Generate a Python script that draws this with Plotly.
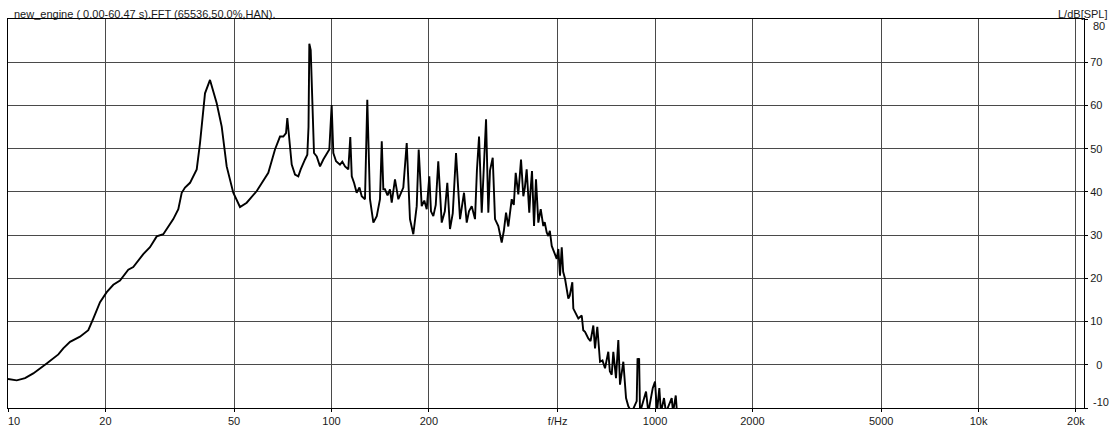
import plotly.graph_objects as go

# Frequency (Hz) and level (dB SPL)
freq = [
    10.0, 10.64, 11.29, 11.97, 13.17, 14.31, 14.82, 15.55, 16.69, 17.71,
    18.35, 19.01, 19.25, 20.19, 21.16, 22.19, 22.72, 23.54, 24.39, 25.28,
    26.19, 27.47, 28.12, 28.82, 30.20, 31.29, 32.43, 33.61, 34.43, 35.25,
    36.53, 38.31, 39.22, 40.64, 42.11, 44.17, 45.77, 47.42, 49.70, 52.13,
    54.69, 58.74, 60.86, 63.77, 66.88, 69.31, 70.96, 72.34, 73.01, 73.74,
    74.42, 75.33, 77.12, 78.95, 80.31, 82.81, 84.18, 84.90, 85.39, 86.24,
    87.21, 88.28, 90.01, 92.15, 94.33, 96.65, 98.45, 100.1, 101.3, 103.3,
    106.2, 108.0, 110.1, 112.7, 114.3, 115.5, 117.5, 119.6, 122.0, 124.0,
    126.9, 129.0, 131.5, 134.7, 138.0, 141.2, 143.0, 144.6, 146.3, 149.0,
    151.6, 153.5, 157.1, 160.9, 163.5, 166.7, 170.8, 174.8, 179.0, 183.4,
    186.0, 190.0, 193.5, 196.9, 200.6, 203.0, 206.4, 210.0, 213.8, 219.1,
    224.0, 228.0, 232.4, 237.0, 242.6, 249.6, 256.8, 261.8, 266.0, 271.3,
    277.7, 281.5, 285.8, 291.3, 295.0, 300.4, 305.3, 309.0, 315.0, 320.2,
    327.8, 335.8, 341.0, 346.3, 352.0, 356.0, 360.6, 366.0, 371.0, 377.9,
    385.3, 391.7, 396.0, 401.1, 408.6, 412.0, 416.6, 422.7, 428.6, 435.8,
    443.3, 451.5, 456.0, 462.6, 468.0, 473.0, 479.4, 488.0, 496.8, 502.5,
    508.5, 514.8, 520.0, 527.0, 533.0, 539.5, 545.0, 555.1, 559.1, 568.0,
    579.3, 593.5, 600.0, 607.6, 622.0, 632.0, 644.6, 652.4, 663.1, 676.1,
    688.0, 700.5, 717.1, 725.0, 734.7, 743.2, 757.5, 770.1, 779.4, 798.0,
    813.6, 827.0, 847.2, 877.8, 883.0, 888.0, 893.0, 898.7, 938.0, 953.5,
    983.8, 1000.0, 1014.0, 1031.0, 1043.0, 1066.0, 1081.0, 1126.0, 1137.0,
    1159.0, 1169.0,
]
level = [
    -3.3, -3.6, -3.1, -2.0, 0.3, 2.4, 3.8, 5.3, 6.5, 8.0,
    10.7, 13.7, 14.5, 16.8, 18.5, 19.5, 20.6, 22.0, 22.6, 24.1,
    25.6, 27.2, 28.3, 29.7, 30.2, 32.1, 33.7, 36.0, 39.8, 41.0,
    42.1, 45.2, 51.3, 62.8, 65.9, 60.5, 55.1, 45.9, 39.8, 36.5,
    37.5, 40.2, 42.1, 44.4, 49.8, 52.8, 52.8, 53.6, 57.1, 54.4,
    50.5, 46.3, 44.0, 43.6, 45.2, 47.5, 48.6, 55.0, 74.3, 72.8,
    62.0, 49.0, 48.2, 45.9, 47.5, 49.0, 49.8, 60.1, 49.0, 47.1,
    46.3, 47.0, 45.9, 45.2, 52.7, 43.6, 42.0, 39.8, 41.0, 39.0,
    38.3, 61.3, 38.3, 32.9, 34.4, 38.3, 51.7, 40.6, 40.6, 39.2,
    40.6, 37.5, 42.9, 38.3, 39.5, 41.0, 51.3, 33.7, 30.2, 36.7,
    49.8, 36.7, 38.0, 36.0, 43.6, 35.5, 34.4, 37.0, 47.1, 32.9,
    35.5, 42.1, 31.4, 35.0, 49.0, 33.7, 39.8, 32.9, 35.5, 36.7,
    33.7, 45.0, 52.8, 35.2, 44.0, 56.8, 35.2, 45.0, 47.9, 33.7,
    32.1, 28.3, 31.0, 35.2, 32.0, 35.0, 38.3, 37.0, 44.4, 39.4,
    47.5, 39.0, 41.0, 45.2, 35.2, 40.0, 44.8, 32.1, 42.9, 32.9,
    36.0, 32.1, 33.0, 30.6, 29.8, 31.0, 27.5, 26.0, 24.5, 26.8,
    20.6, 27.2, 21.5, 19.9, 18.0, 15.3, 16.0, 19.1, 13.0, 12.0,
    10.7, 11.4, 8.0, 7.6, 6.1, 5.5, 9.1, 3.8, 8.8, 0.7,
    1.0, -0.8, 3.0, -1.5, -2.3, 3.0, -3.1, 5.7, -4.6, 0.7,
    -7.7, -9.6, -11.0, -8.4, 1.5, 1.0, 1.5, -11.0, -6.2, -11.0,
    -5.4, -3.9, -11.0, -5.4, -11.0, -7.7, -11.0, -7.7, -11.0,
    -7.1, -11.0,
]

x_tick_vals = [10, 20, 50, 100, 200, 500, 1000, 2000, 5000, 10000, 20000]
x_tick_text = ["", "20", "50", "100", "200", "f/Hz", "1000", "2000", "5000", "10k", "20k"]
x_first_label = "10"
y_tick_vals = [-10, 0, 10, 20, 30, 40, 50, 60, 70, 80]
y_tick_text = ["", "\u20070", "10", "20", "30", "40", "50", "60", "70", ""]
y_top_label = "80"
y_bottom_label = "-10"

title_text = "new_engine ( 0.00-60.47 s).FFT (65536,50.0%,HAN)."
y_unit_text = "L/dB[SPL]"

FONT = "Liberation Sans, Arial, sans-serif"
GRID = "#4a4a4a"
TXT = "#1a1a1a"

fig = go.Figure()
fig.add_trace(go.Scatter(
    x=freq, y=level, mode="lines",
    line=dict(color="black", width=1.9),
    hoverinfo="skip", showlegend=False,
))

fig.update_layout(
    width=1117, height=426,
    margin=dict(l=8, r=33, t=19, b=18, autoexpand=False),
    paper_bgcolor="white", plot_bgcolor="white",
    showlegend=False,
    font=dict(family=FONT, size=11, color=TXT),
    annotations=[
        dict(text=title_text, xref="paper", yref="paper", x=0.004, y=1,
             xanchor="left", yanchor="bottom", showarrow=False,
             font=dict(family=FONT, size=11, color=TXT), yshift=-3),
        dict(text=y_unit_text, xref="paper", yref="paper", x=1.0245, y=1,
             xanchor="right", yanchor="bottom", showarrow=False,
             font=dict(family=FONT, size=11, color=TXT), yshift=-3),
        dict(text=y_top_label, xref="paper", yref="y", x=1.0065, y=80,
             xanchor="left", yanchor="middle", showarrow=False,
             font=dict(family=FONT, size=11, color=TXT), yshift=-7),
        dict(text=y_bottom_label, xref="paper", yref="y", x=1.0065, y=-10,
             xanchor="left", yanchor="middle", showarrow=False,
             font=dict(family=FONT, size=11, color=TXT), yshift=6),
        dict(text=x_first_label, xref="x", yref="paper", x=1, y=0,
             xanchor="left", yanchor="top", showarrow=False,
             font=dict(family=FONT, size=11, color=TXT), yshift=-5, xshift=-2),
    ],
)

fig.update_xaxes(
    type="log", range=[1, 4.326], automargin=False,
    tickmode="array", tickvals=x_tick_vals, ticktext=x_tick_text,
    showgrid=True, gridcolor=GRID, gridwidth=1,
    showline=True, linecolor="black", linewidth=1, mirror=True,
    ticks="outside", ticklen=3, tickcolor="black",
    zeroline=False, tickfont=dict(family=FONT, size=11, color=TXT),
)
fig.update_yaxes(
    range=[-10, 80], side="right", automargin=False,
    tickmode="array", tickvals=y_tick_vals, ticktext=y_tick_text,
    showgrid=True, gridcolor=GRID, gridwidth=1,
    showline=True, linecolor="black", linewidth=1, mirror=True,
    ticks="outside", ticklen=3, tickcolor="black",
    zeroline=False, tickfont=dict(family=FONT, size=11, color=TXT),
)

fig.write_html("out.html")
